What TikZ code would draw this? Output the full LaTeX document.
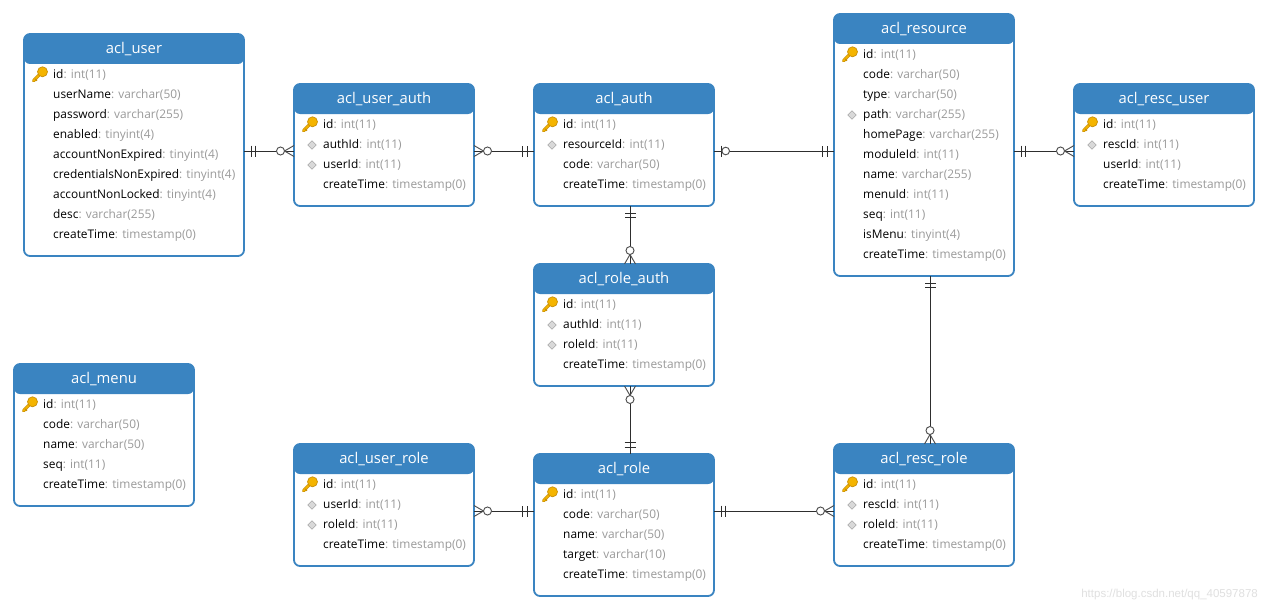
\documentclass[tikz,border=0pt]{standalone}
\usepackage{fontspec}
\setmainfont{Open Sans}
\newfontfamily\wmfont{Liberation Sans}
\definecolor{hdr}{HTML}{3A84C1}
\definecolor{typec}{HTML}{9A9A9A}
\definecolor{conncol}{HTML}{2E2E2E}
\definecolor{crowcol}{HTML}{505050}
\definecolor{keyfill}{HTML}{F4B400}
\definecolor{keyline}{HTML}{C8900A}
\definecolor{fkfill}{HTML}{D9D9D9}
\definecolor{fkline}{HTML}{A5A5A5}
\definecolor{wmcol}{HTML}{E0E0E0}
\tikzset{
 tbl/.style={draw=hdr, line width=1.8pt, fill=white, rounded corners=6pt, inner sep=0pt, outer sep=0pt,
   path picture={\fill[hdr] (path picture bounding box.north west) rectangle ([yshift=-30pt]path picture bounding box.north east);}},
 ttl/.style={text=white, inner sep=0pt, font=\fontsize{14.8}{16}\selectfont},
 fld/.style={anchor=base west, inner sep=0pt, font=\fontsize{11.9}{14}\selectfont},
 conn/.style={draw=conncol, line width=0.95pt},
 crow/.style={draw=crowcol, line width=0.95pt},
 wm/.style={text=wmcol, inner sep=0pt, font=\wmfont\fontsize{11.5}{13}\selectfont}
}
\newcommand\iconk[2]{\begin{scope}[shift={(#1,#2)}]
  \draw[keyline, line width=3.2pt, line cap=round] (15,1) -- (9.5,6.8);
  \draw[keyfill, line width=1.8pt, line cap=round] (15,1) -- (9.5,6.8);
  \draw[keyline, line width=1.4pt] (11.2,5) -- (13,6.6);
  \draw[keyline, fill=keyfill, line width=0.7pt] (18.5,-2.2) circle (5);
  \end{scope}}
\newcommand\icond[2]{\begin{scope}[shift={(#1,#2)}]
  \draw[fkline, fill=fkfill, line width=0.5pt] (18,-3.2) -- (22.2,1) -- (18,5.2) -- (13.8,1) -- cycle;
  \end{scope}}
\newcommand\iconn[2]{}
\newcommand\ertable[7]{%
 \node[tbl, minimum width=#4pt, minimum height=#5pt, anchor=north west] (#1) at (#2,#3) {};
 \node[ttl] (#1-t) at ({#2+#4/2},{#3+15}) {#6};
 \foreach \fnm/\fty/\fic [count=\k from 0] in {#7} {
   \csname icon\fic\endcsname{#2}{#3+40+20*\k}
   \node[fld] (#1-\k) at ({#2+29},{#3+44.5+20*\k}) {\fnm\textcolor{typec}{: \fty}};
 }}
\newcommand\mkone[2]{\begin{scope}[shift={#1},rotate=#2]\draw[conn] (7,-5.5)--(7,5.5) (11.5,-5.5)--(11.5,5.5);\end{scope}}
\newcommand\mkmany[2]{\begin{scope}[shift={#1},rotate=#2]\draw[crow] (0,-5.5)--(9.5,0)--(0,5.5);\draw[crow,fill=white] (13.5,0) circle (4);\end{scope}}
\newcommand\mkzo[2]{\begin{scope}[shift={#1},rotate=#2]\draw[conn] (7.5,-5.5)--(7.5,5.5);\draw[crow,fill=white] (11.7,0) circle (3.8);\end{scope}}
\begin{document}
\begin{tikzpicture}[x=1pt,y=-1pt]
\fill[white] (0,0) rectangle (1268,610);
\useasboundingbox (0,0) rectangle (1268,610);

\ertable{user}{24}{34}{220}{222}{acl\_user}{id/int(11)/k, userName/varchar(50)/n, password/varchar(255)/n, enabled/tinyint(4)/n, accountNonExpired/tinyint(4)/n, credentialsNonExpired/tinyint(4)/n, accountNonLocked/tinyint(4)/n, desc/varchar(255)/n, createTime/timestamp(0)/n}
\ertable{userauth}{294}{84}{180}{122}{acl\_user\_auth}{id/int(11)/k, authId/int(11)/d, userId/int(11)/d, createTime/timestamp(0)/n}
\ertable{auth}{534}{84}{180}{122}{acl\_auth}{id/int(11)/k, resourceId/int(11)/d, code/varchar(50)/n, createTime/timestamp(0)/n}
\ertable{resource}{834}{14}{180}{262}{acl\_resource}{id/int(11)/k, code/varchar(50)/n, type/varchar(50)/n, path/varchar(255)/d, homePage/varchar(255)/n, moduleId/int(11)/n, name/varchar(255)/n, menuId/int(11)/n, seq/int(11)/n, isMenu/tinyint(4)/n, createTime/timestamp(0)/n}
\ertable{rescuser}{1074}{84}{180}{122}{acl\_resc\_user}{id/int(11)/k, rescId/int(11)/d, userId/int(11)/n, createTime/timestamp(0)/n}
\ertable{roleauth}{534}{264}{180}{122}{acl\_role\_auth}{id/int(11)/k, authId/int(11)/d, roleId/int(11)/d, createTime/timestamp(0)/n}
\ertable{menu}{14}{364}{180}{142}{acl\_menu}{id/int(11)/k, code/varchar(50)/n, name/varchar(50)/n, seq/int(11)/n, createTime/timestamp(0)/n}
\ertable{userrole}{294}{444}{180}{122}{acl\_user\_role}{id/int(11)/k, userId/int(11)/d, roleId/int(11)/d, createTime/timestamp(0)/n}
\ertable{role}{534}{454}{180}{142}{acl\_role}{id/int(11)/k, code/varchar(50)/n, name/varchar(50)/n, target/varchar(10)/n, createTime/timestamp(0)/n}
\ertable{rescrole}{834}{444}{180}{122}{acl\_resc\_role}{id/int(11)/k, rescId/int(11)/d, roleId/int(11)/d, createTime/timestamp(0)/n}

% connectors
\draw[conn] (user.east |- 0,151) -- (userauth.west |- 0,151);
\mkone{(user.east |- 0,151)}{0}
\mkmany{(userauth.west |- 0,151)}{180}

\draw[conn] (userauth.east |- 0,151) -- (auth.west |- 0,151);
\mkmany{(userauth.east |- 0,151)}{0}
\mkone{(auth.west |- 0,151)}{180}

\draw[conn] (auth.east |- 0,151) -- (resource.west |- 0,151);
\mkzo{(auth.east |- 0,151)}{0}
\mkone{(resource.west |- 0,151)}{180}

\draw[conn] (resource.east |- 0,151) -- (rescuser.west |- 0,151);
\mkone{(resource.east |- 0,151)}{0}
\mkmany{(rescuser.west |- 0,151)}{180}

\draw[conn] (auth.south -| 630,0) -- (roleauth.north -| 630,0);
\mkone{(auth.south -| 630,0)}{-90}
\mkmany{(roleauth.north -| 630,0)}{90}

\draw[conn] (roleauth.south -| 630,0) -- (role.north -| 630,0);
\mkmany{(roleauth.south -| 630,0)}{-90}
\mkone{(role.north -| 630,0)}{90}

\draw[conn] (resource.south -| 930,0) -- (rescrole.north -| 930,0);
\mkone{(resource.south -| 930,0)}{-90}
\mkmany{(rescrole.north -| 930,0)}{90}

\draw[conn] (userrole.east |- 0,511) -- (role.west |- 0,511);
\mkmany{(userrole.east |- 0,511)}{0}
\mkone{(role.west |- 0,511)}{180}

\draw[conn] (role.east |- 0,511) -- (rescrole.west |- 0,511);
\mkone{(role.east |- 0,511)}{0}
\mkmany{(rescrole.west |- 0,511)}{180}

\node[wm, anchor=base east] (wm) at (1258,597) {https://blog.csdn.net/qq\_40597878};
\end{tikzpicture}
\end{document}
